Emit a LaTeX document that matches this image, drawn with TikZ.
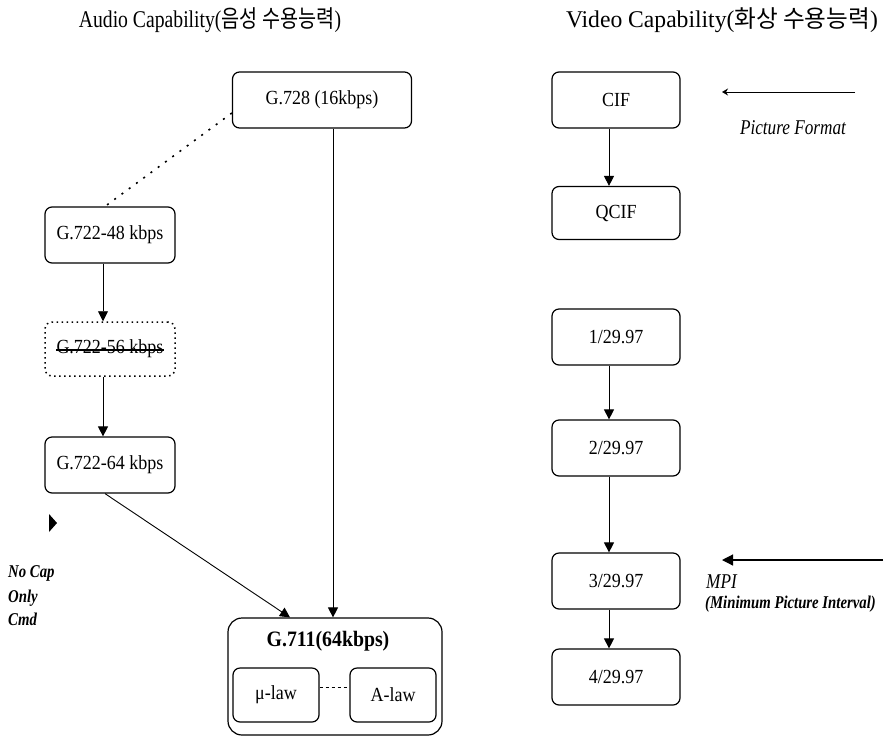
\documentclass[tikz,border=0pt]{standalone}
\usepackage{fontspec}
\setmainfont{Liberation Serif}[FakeStretch=0.9]
\newfontfamily\titlefont{Liberation Serif}[FakeStretch=0.82]
\newfontfamily\hangul{Noto Sans CJK KR}[FakeStretch=0.82]
\usetikzlibrary{arrows.meta}
\begin{document}
\begin{tikzpicture}[x=1pt,y=-1pt,
  box/.style={draw, rounded corners=7pt, minimum height=56pt, line width=1.2pt,
    font=\fontsize{20}{24}\selectfont, inner sep=0pt},
  flow/.style={-{Triangle[width=10pt,length=10pt]}, line width=0.9pt},
  title/.style={font=\fontsize{24}{28}\selectfont\titlefont},
  note/.style={font=\fontsize{18}{22}\selectfont\bfseries\itshape\titlefont, inner sep=0pt}
 ]
\useasboundingbox (0,0) rectangle (885,750);

% headings
\node[title] (atitle) at (210,20) {Audio Capability({\hangul 음성 수용능력})};
\node[title] (vtitle) at (722,20) {\scalebox{1.2}[1]{Video Capability({\hangul 화상 수용능력})}};

% audio side
\node[box, minimum width=179pt] (g728) at (322,100) {G.728 (16kbps)};
\node[box, minimum width=130pt] (g48) at (110,235) {G.722-48 kbps};
\node[draw, dash pattern=on 1.5pt off 3.5pt, line width=1.5pt, rounded corners=7pt,
      minimum width=130pt, minimum height=54pt, inner sep=0pt] (g56) at (110,349) {};
\node[font=\fontsize{20}{24}\selectfont, inner sep=0pt] (g56t) at (g56.center) {G.722-56 kbps};
\draw[line width=1.2pt] ([yshift=-1pt]g56t.west) -- ([yshift=-1pt]g56t.east);
\node[box, minimum width=130pt] (g64) at (110,465) {G.722-64 kbps};

\node[box, minimum width=214pt, minimum height=117pt, rounded corners=14pt] (g711) at (335,676.5) {};
\node[font=\fontsize{22}{26}\selectfont\bfseries] (g711t) at (328,641) {G.711(64kbps)};
\node[box, minimum width=86pt, minimum height=54pt] (mu) at (276,695) {μ-law};
\node[box, minimum width=86pt, minimum height=54pt] (alaw) at (393,695) {A-law};
\draw[dashed, line width=0.9pt] ([yshift=8pt]mu.east) -- ([yshift=8pt]alaw.west);

\draw[dash pattern=on 2pt off 7pt, line width=1.6pt] ([yshift=-13pt]g728.west) -- ([xshift=-5pt]g48.north);
\draw[flow] ([xshift=11pt]g728.south) -- ([xshift=-2pt]g711.north);
\draw[flow] ([xshift=-7pt]g48.south) -- ([xshift=-7pt]g56.north);
\draw[flow] ([xshift=-7pt]g56.south) -- ([xshift=-7pt]g64.north);
\draw[flow] ([xshift=-5pt]g64.south) -- ([xshift=-45pt]g711.north);

% capability note
\fill (49,514) -- (57,523) -- (49,532) -- cycle;
\node[note, anchor=north west, align=left] (nocap) at (8,565) {No Cap\\[3pt]Only\\[1pt]Cmd};

% video side
\node[box, minimum width=128pt] (cif) at (616,100) {CIF};
\node[box, minimum width=128pt, minimum height=53pt] (qcif) at (616,213) {QCIF};
\node[box, minimum width=128pt] (f1) at (616,337) {1/29.97};
\node[box, minimum width=128pt] (f2) at (616,448) {2/29.97};
\node[box, minimum width=128pt] (f3) at (616,581) {3/29.97};
\node[box, minimum width=128pt] (f4) at (616,677) {4/29.97};

\draw[flow] ([xshift=-7pt]cif.south) -- ([xshift=-7pt]qcif.north);
\draw[flow] ([xshift=-7pt]f1.south) -- ([xshift=-7pt]f2.north);
\draw[flow] ([xshift=-7pt]f2.south) -- ([xshift=-7pt]f3.north);
\draw[flow] ([xshift=-7pt]f3.south) -- ([xshift=-7pt]f4.north);

% side annotations
\coordinate (pfa) at (855,92);
\coordinate (pfb) at (722,92);
\draw[-{Stealth[width=7pt,length=6pt]}, line width=0.9pt] (pfa) -- (pfb);
\node[font=\fontsize{21}{24}\selectfont\itshape\titlefont] (pf) at (793,128) {Picture Format};

\coordinate (mpa) at (883,560);
\coordinate (mpb) at (722,560);
\draw[-{Triangle[width=11pt,length=11pt]}, line width=1.2pt] (mpa) -- (mpb);
\node[font=\fontsize{21}{24}\selectfont\itshape\titlefont, anchor=west, inner sep=0pt] (mpi) at (706,582) {MPI};
\node[note, anchor=west] (mpil) at (705,604) {(Minimum Picture Interval)};
\end{tikzpicture}
\end{document}
